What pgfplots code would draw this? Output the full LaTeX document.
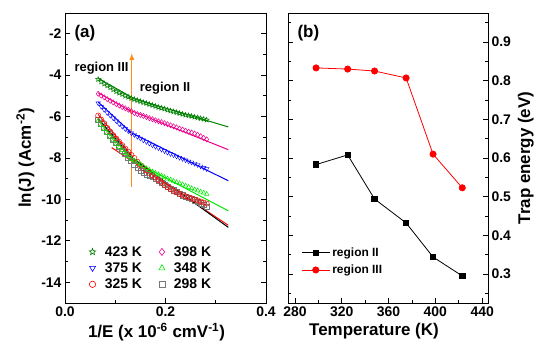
\documentclass[border=0pt]{standalone}
\usepackage{fontspec}
\setmainfont{Liberation Sans}
\usepackage{pgfplots}
\pgfplotsset{compat=1.18}
\definecolor{dgreen}{RGB}{0,128,0}
\definecolor{lgreen}{RGB}{0,230,0}
\definecolor{arrorange}{RGB}{255,140,20}
\definecolor{sqgrey}{RGB}{120,120,120}
\pgfdeclareplotmark{ostar}{%
  \pgfpathmoveto{\pgfpointpolar{90}{\pgfplotmarksize}}%
  \pgfpathlineto{\pgfpointpolar{126}{0.42\pgfplotmarksize}}%
  \pgfpathlineto{\pgfpointpolar{162}{\pgfplotmarksize}}%
  \pgfpathlineto{\pgfpointpolar{198}{0.42\pgfplotmarksize}}%
  \pgfpathlineto{\pgfpointpolar{234}{\pgfplotmarksize}}%
  \pgfpathlineto{\pgfpointpolar{270}{0.42\pgfplotmarksize}}%
  \pgfpathlineto{\pgfpointpolar{306}{\pgfplotmarksize}}%
  \pgfpathlineto{\pgfpointpolar{342}{0.42\pgfplotmarksize}}%
  \pgfpathlineto{\pgfpointpolar{18}{\pgfplotmarksize}}%
  \pgfpathlineto{\pgfpointpolar{54}{0.42\pgfplotmarksize}}%
  \pgfpathclose\pgfusepathqstroke}
\pgfplotsset{
  myax/.style={
    scale only axis,
    tick align=inside,
    xtick pos=lower,
    ytick pos=both,
    major tick length=5bp,
    minor tick length=3bp,
    axis line style={line width=0.8pt},
    every tick/.style={black, line width=0.8pt},
    tick label style={font=\fontsize{14}{14}\selectfont\bfseries},
    label style={font=\fontsize{17}{17}\selectfont\bfseries},
    /pgf/number format/assume math mode=true,
  },
  scat/.style={only marks, mark size=2.6bp, mark options={line width=0.5pt, fill=none}},
  fitl/.style={no marks, line width=1pt},
}
\pgfplotstableread{
x y
0.066 -4.20
0.072 -4.32
0.078 -4.42
0.084 -4.51
0.090 -4.60
0.096 -4.70
0.102 -4.79
0.108 -4.86
0.114 -4.93
0.120 -5.00
0.126 -5.06
0.132 -5.12
0.138 -5.17
0.144 -5.22
0.150 -5.27
0.156 -5.32
0.162 -5.36
0.168 -5.41
0.174 -5.45
0.180 -5.50
0.186 -5.55
0.192 -5.59
0.198 -5.63
0.204 -5.68
0.210 -5.72
0.216 -5.76
0.222 -5.80
0.228 -5.84
0.234 -5.88
0.240 -5.92
0.246 -5.95
0.252 -5.98
0.258 -6.02
0.264 -6.05
0.270 -6.09
0.276 -6.12
0.282 -6.16
}\tA
\pgfplotstableread{
x y
0.066 -4.90
0.072 -4.99
0.078 -5.07
0.084 -5.16
0.090 -5.24
0.096 -5.32
0.102 -5.40
0.108 -5.47
0.114 -5.54
0.120 -5.60
0.126 -5.67
0.132 -5.74
0.138 -5.83
0.144 -5.88
0.150 -5.92
0.156 -5.97
0.162 -6.02
0.168 -6.08
0.174 -6.13
0.180 -6.18
0.186 -6.23
0.192 -6.27
0.198 -6.32
0.204 -6.37
0.210 -6.42
0.216 -6.47
0.222 -6.52
0.228 -6.58
0.234 -6.63
0.240 -6.68
0.246 -6.73
0.252 -6.77
0.258 -6.82
0.264 -6.88
0.270 -6.95
0.276 -7.03
0.282 -7.10
}\tB
\pgfplotstableread{
x y
0.066 -5.35
0.072 -5.52
0.078 -5.67
0.084 -5.82
0.090 -5.95
0.096 -6.08
0.102 -6.22
0.108 -6.36
0.114 -6.48
0.120 -6.60
0.126 -6.70
0.132 -6.80
0.138 -6.88
0.144 -6.97
0.150 -7.05
0.156 -7.14
0.162 -7.22
0.168 -7.30
0.174 -7.38
0.180 -7.45
0.186 -7.52
0.192 -7.59
0.198 -7.66
0.204 -7.73
0.210 -7.80
0.216 -7.86
0.222 -7.92
0.228 -7.98
0.234 -8.04
0.240 -8.10
0.246 -8.16
0.252 -8.21
0.258 -8.27
0.264 -8.33
0.270 -8.40
0.276 -8.47
0.282 -8.53
}\tC
\pgfplotstableread{
x y
0.066 -5.95
0.072 -6.15
0.078 -6.32
0.084 -6.55
0.090 -6.72
0.096 -6.90
0.102 -7.06
0.108 -7.22
0.114 -7.38
0.120 -7.55
0.126 -7.70
0.132 -7.85
0.138 -8.00
0.144 -8.18
0.150 -8.35
0.156 -8.48
0.162 -8.60
0.168 -8.72
0.174 -8.84
0.180 -8.95
0.186 -9.07
0.192 -9.18
0.198 -9.30
0.204 -9.40
0.210 -9.50
0.216 -9.58
0.222 -9.66
0.228 -9.73
0.234 -9.80
0.240 -9.85
0.246 -9.90
0.252 -9.95
0.258 -10.00
0.264 -10.05
0.270 -10.10
0.276 -10.15
0.282 -10.20
}\tD
\pgfplotstableread{
x y
0.066 -6.20
0.072 -6.42
0.078 -6.62
0.084 -6.80
0.090 -6.98
0.096 -7.15
0.102 -7.33
0.108 -7.48
0.114 -7.63
0.120 -7.78
0.126 -7.92
0.132 -8.05
0.138 -8.12
0.144 -8.20
0.150 -8.30
0.156 -8.40
0.162 -8.50
0.168 -8.58
0.174 -8.66
0.180 -8.72
0.186 -8.79
0.192 -8.86
0.198 -8.93
0.204 -9.00
0.210 -9.05
0.216 -9.11
0.222 -9.17
0.228 -9.22
0.234 -9.28
0.240 -9.34
0.246 -9.40
0.252 -9.46
0.258 -9.52
0.264 -9.57
0.270 -9.63
0.276 -9.68
0.282 -9.74
}\tE
\pgfplotstableread{
x y
0.066 -6.15
0.072 -6.35
0.078 -6.55
0.084 -6.75
0.090 -6.92
0.096 -7.10
0.102 -7.28
0.108 -7.46
0.114 -7.64
0.120 -7.80
0.126 -7.98
0.132 -8.15
0.138 -8.32
0.144 -8.48
0.150 -8.60
0.156 -8.70
0.162 -8.78
0.168 -8.85
0.174 -8.92
0.180 -9.00
0.186 -9.10
0.192 -9.20
0.198 -9.30
0.204 -9.40
0.210 -9.48
0.216 -9.56
0.222 -9.64
0.228 -9.72
0.234 -9.80
0.240 -9.86
0.246 -9.92
0.252 -9.98
0.258 -10.04
0.264 -10.10
0.270 -10.18
0.276 -10.26
0.282 -10.34
}\tF
\begin{document}
\begin{tikzpicture}
% ---------------- panel (a)
\begin{axis}[myax, at={(65bp,56bp)}, anchor=south west, width=201bp, height=290bp,
  xmin=0, xmax=0.4, ymin=-15, ymax=-1,
  xtick={0,0.2,0.4}, minor xtick={0.1,0.3},
  ytick={-14,-12,-10,-8,-6,-4,-2}, minor ytick={-15,-13,-11,-9,-7,-5,-3},
  xticklabel style={/pgf/number format/.cd, fixed, fixed zerofill, precision=1},
  xlabel={1/E (x 10\textsuperscript{-6} cmV\textsuperscript{-1})},
  ylabel={ln(J) (Acm\textsuperscript{-2})},
  xlabel style={xshift=-9bp},
  legend style={draw=none, fill=none, font=\fontsize{14}{14}\selectfont\bfseries,
    at={(0.105,0.21)}, anchor=north west, row sep=1bp,
    /tikz/every odd column/.append style={column sep=7bp},
    /tikz/every even column/.append style={column sep=15bp}},
  legend columns=2, legend cell align=left,
]
\addplot[scat, dgreen, mark=ostar, forget plot] table {\tA};
\addplot[scat, magenta, mark=diamond, forget plot] table {\tB};
\addplot[scat, blue, mark=triangle, mark options={rotate=180}, forget plot] table {\tC};
\addplot[scat, sqgrey, mark=square, forget plot] table {\tF};
\addplot[scat, red, mark=o, forget plot] table {\tD};
\addplot[scat, lgreen, mark=triangle, forget plot] table {\tE};
% fit lines region III
\addplot[fitl, dgreen, forget plot] coordinates {(0.066,-4.15) (0.135,-5.1)};
\addplot[fitl, magenta, forget plot] coordinates {(0.066,-4.85) (0.135,-5.8)};
\addplot[fitl, blue, forget plot] coordinates {(0.066,-5.3) (0.135,-6.85)};
\addplot[fitl, lgreen, forget plot] coordinates {(0.066,-6.15) (0.135,-8.1)};
\addplot[fitl, red, forget plot] coordinates {(0.066,-5.9) (0.135,-7.95)};
\addplot[fitl, black, forget plot] coordinates {(0.066,-6.1) (0.135,-8.0)};
% fit lines region II
\addplot[fitl, dgreen, forget plot] coordinates {(0.125,-5.05) (0.325,-6.5)};
\addplot[fitl, magenta, forget plot] coordinates {(0.125,-5.65) (0.325,-7.6)};
\addplot[fitl, blue, forget plot] coordinates {(0.125,-6.7) (0.325,-9.1)};
\addplot[fitl, lgreen, forget plot] coordinates {(0.125,-8.0) (0.325,-10.55)};
\addplot[fitl, red, forget plot] coordinates {(0.093,-7.5) (0.325,-11.25)};
\addplot[fitl, black, forget plot] coordinates {(0.125,-7.85) (0.325,-11.35)};
% arrow
\addplot[draw=arrorange, line width=1.2pt, -latex, forget plot] coordinates {(0.133,-9.4) (0.133,-2.95)};
% legend
\addlegendimage{only marks, dgreen, mark=ostar, mark size=3.4bp, mark options={line width=0.6pt}}
\addlegendentry{423 K}
\addlegendimage{only marks, magenta, mark=diamond, mark size=3.6bp, mark options={line width=0.6pt}}
\addlegendentry{398 K}
\addlegendimage{only marks, blue, mark=triangle, mark size=3.4bp, mark options={rotate=180, line width=0.6pt}}
\addlegendentry{375 K}
\addlegendimage{only marks, lgreen, mark=triangle, mark size=3.4bp, mark options={line width=0.6pt}}
\addlegendentry{348 K}
\addlegendimage{only marks, red, mark=o, mark size=3.2bp, mark options={line width=0.6pt}}
\addlegendentry{325 K}
\addlegendimage{only marks, sqgrey, mark=square, mark size=3bp, mark options={line width=0.6pt}}
\addlegendentry{298 K}
\node[anchor=west, font=\fontsize{17}{17}\selectfont\bfseries] at (rel axis cs:0.03,0.93) {(a)};
\node[anchor=west, font=\fontsize{13}{13}\selectfont\bfseries] at (axis cs:0.012,-3.65) {region III};
\node[anchor=west, font=\fontsize{13}{13}\selectfont\bfseries] at (axis cs:0.142,-4.65) {region II};
\end{axis}
% ---------------- panel (b)
\begin{axis}[myax, at={(288bp,56bp)}, anchor=south west, width=200bp, height=290bp,
  xmin=274, xmax=445, ymin=0.225, ymax=0.975,
  xtick={280,320,360,400,440}, minor xtick={300,340,380,420},
  ytick={0.3,0.4,0.5,0.6,0.7,0.8,0.9}, minor ytick={0.25,0.35,0.45,0.55,0.65,0.75,0.85,0.95},
  yticklabel pos=right, ylabel near ticks,
  yticklabel style={/pgf/number format/.cd, fixed, fixed zerofill, precision=1},
  xlabel={Temperature (K)}, ylabel={Trap energy (eV)},
  xlabel style={xshift=-14bp},
  ylabel style={font=\fontsize{17}{17}\selectfont\bfseries},
  legend style={draw=none, fill=none, font=\fontsize{12}{12}\selectfont\bfseries,
    at={(0.05,0.205)}, anchor=north west, row sep=3bp},
  legend cell align=left,
  legend image code/.code={\draw[mark repeat=2, mark phase=2] plot coordinates {(0cm,0cm) (0.5cm,0cm) (1.0cm,0cm)};},
]
\addplot[black, line width=0.8pt, mark=square*, mark size=2.7bp] coordinates {
(298,0.583) (325,0.608) (348,0.494) (375,0.432) (398,0.344) (423,0.295)};
\addlegendentry{region II}
\addplot[red, line width=0.8pt, mark=*, mark size=3.1bp] coordinates {
(298,0.833) (325,0.830) (348,0.825) (375,0.807) (398,0.610) (423,0.523)};
\addlegendentry{region III}
\node[anchor=west, font=\fontsize{17}{17}\selectfont\bfseries] at (rel axis cs:0.03,0.93) {(b)};
\end{axis}
\pgfresetboundingbox
\path[use as bounding box] (0bp,0bp) rectangle (550bp,359bp);
\end{tikzpicture}
\end{document}
